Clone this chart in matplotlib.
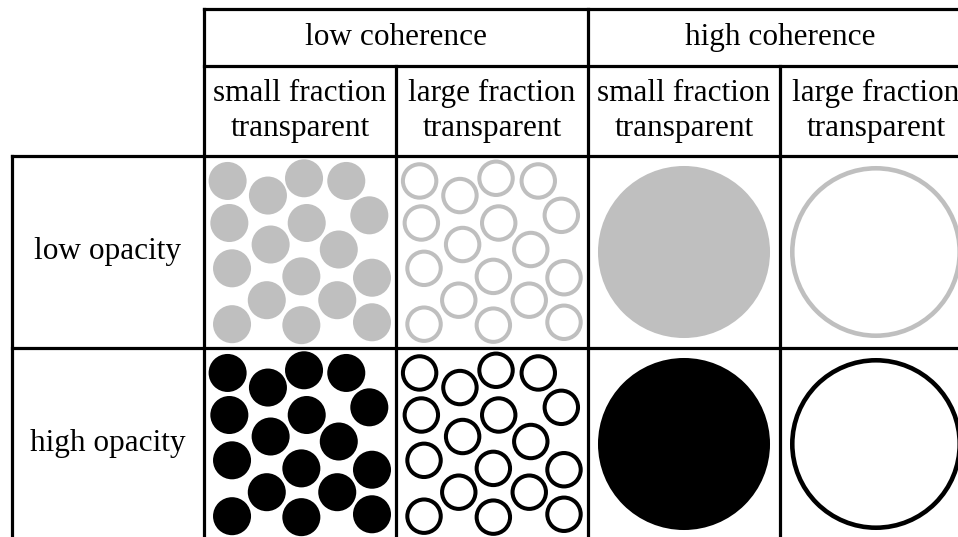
import matplotlib.pyplot as plt
from matplotlib.patches import Circle

plt.rcParams['font.family'] = ['Liberation Serif', 'DejaVu Serif']

# table content
group_labels = ["low coherence", "high coherence"]
sub_labels = ["small fraction\ntransparent", "large fraction\ntransparent",
              "small fraction\ntransparent", "large fraction\ntransparent"]
row_labels = ["low opacity", "high opacity"]
row_colors = ["#bfbfbf", "black"]
# cell contents: (coherent?, filled?)
col_kinds = [(False, True), (False, False), (True, True), (True, False)]

# scattered dot layout inside a cell (fractions of the cell)
dots_x = [0.123, 0.333, 0.521, 0.741, 0.861, 0.132, 0.535, 0.347, 0.702,
          0.146, 0.507, 0.875, 0.327, 0.694, 0.146, 0.507, 0.875]
dots_y = [0.130, 0.206, 0.116, 0.130, 0.309, 0.349, 0.349, 0.461, 0.487,
          0.585, 0.627, 0.634, 0.751, 0.751, 0.876, 0.881, 0.866]

cell = 192.0
fig = plt.figure(figsize=(9.58, 5.37), dpi=100)
ax = fig.add_axes([0, 0, 1, 1])
ax.set_xlim(-12 / cell, 946 / cell)
ax.set_ylim(381 / cell, -156 / cell)
ax.axis('off')

lw = 2.3
top = -147 / cell
mid = -90 / cell

# horizontal lines
ax.plot([1, 5.2], [top, top], color='black', lw=lw)
ax.plot([1, 5.2], [mid, mid], color='black', lw=lw)
for yy in [0, 1, 2]:
    ax.plot([0, 5.2], [yy, yy], color='black', lw=lw)
# vertical lines
ax.plot([0, 0], [0, 2.2], color='black', lw=lw)
for xx in [1, 3, 5]:
    ax.plot([xx, xx], [top, 2.2], color='black', lw=lw)
for xx in [2, 4]:
    ax.plot([xx, xx], [mid, 2.2], color='black', lw=lw)

fs = 22.5
for i, g in enumerate(group_labels):
    ax.text(2 + 2 * i, (top + mid) / 2, g, ha='center', va='center', fontsize=fs)
for i, s in enumerate(sub_labels):
    ax.text(1.5 + i, mid / 2, s, ha='center', va='center', fontsize=fs,
            linespacing=1.25)
for j, r in enumerate(row_labels):
    ax.text(0.5, 0.5 + j, r, ha='center', va='center', fontsize=fs)

for j, c in enumerate(row_colors):
    for i, (coherent, filled) in enumerate(col_kinds):
        x0 = 1 + i
        y0 = j
        if coherent:
            if filled:
                ax.add_patch(Circle((x0 + 0.5, y0 + 0.5), 0.448, fc=c, ec='none'))
            else:
                ax.add_patch(Circle((x0 + 0.5, y0 + 0.5), 0.436, fc='none',
                                    ec=c, lw=3.3))
        else:
            for dx, dy in zip(dots_x, dots_y):
                if filled:
                    ax.add_patch(Circle((x0 + dx, y0 + dy), 0.099, fc=c, ec='none'))
                else:
                    ax.add_patch(Circle((x0 + dx, y0 + dy), 0.087, fc='none',
                                        ec=c, lw=2.9))

fig.savefig('out.png', dpi=100)
